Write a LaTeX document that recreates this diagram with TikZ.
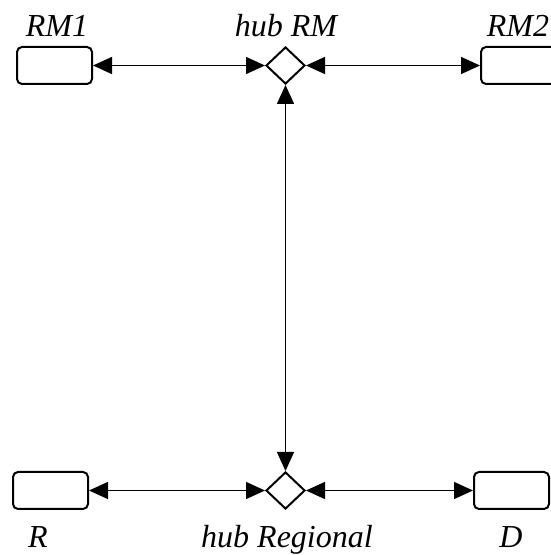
\documentclass[tikz,border=0pt]{standalone}
\usepackage{fontspec}
\setmainfont{Liberation Serif}
\usetikzlibrary{shapes.geometric,arrows.meta}

\begin{document}
\begin{tikzpicture}[x=1pt,y=1pt,>={Triangle[length=19pt,width=17pt]},
  box/.style={draw,rounded corners=5pt,line width=2pt,minimum width=75pt,minimum height=37pt,inner sep=0pt},
  hub/.style={draw,diamond,line width=2pt,minimum width=39pt,minimum height=37pt,inner sep=0pt},
  link/.style={<->,line width=1.5pt},
  lbl/.style={anchor=base,inner sep=0pt,font=\fontsize{32}{38}\selectfont\itshape}]
  \useasboundingbox (0,0) rectangle (551,555);
  % top row
  \node[box] (RMa) at (54.5,489.5) {};
  \node[hub] (hubRM) at (285.5,489.5) {};
  \node[box] (RMb) at (518.5,489.5) {};
  % bottom row
  \node[box] (Rg) at (50.5,64.5) {};
  \node[hub] (hubReg) at (285.5,64.5) {};
  \node[box] (Dg) at (511.5,64.5) {};
  % labels
  \node[lbl] (lRMa) at (57,518) {RM1};
  \node[lbl] (lhubRM) at (286,518) {hub RM};
  \node[lbl] (lRMb) at (518,518) {RM2};
  \node[lbl] (lRg) at (38,8) {R};
  \node[lbl] (lhubReg) at (287,8) {hub Regional};
  \node[lbl] (lDg) at (511,8) {D};
  % links
  \draw[link] (RMa) -- (hubRM);
  \draw[link] (hubRM) -- (RMb);
  \draw[link] (hubRM) -- (hubReg);
  \draw[link] (Rg) -- (hubReg);
  \draw[link] (hubReg) -- (Dg);
\end{tikzpicture}
\end{document}
